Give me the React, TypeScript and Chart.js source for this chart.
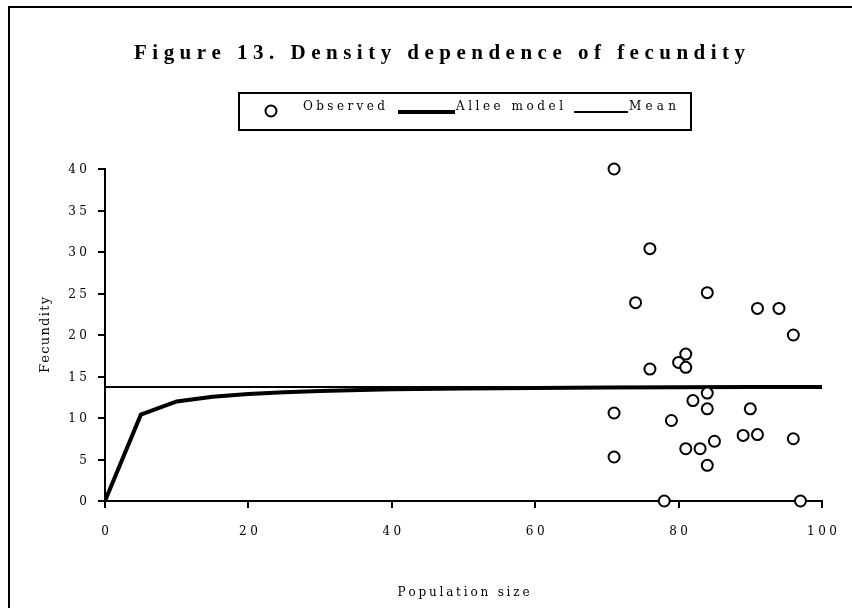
import React, { useEffect, useRef } from 'react';
import { Chart, registerables } from 'chart.js';

Chart.register(...registerables);

// ---- Data ----
const titleText = 'Figure 13. Density dependence of fecundity';
const xTitle = 'Population size';
const yTitle = 'Fecundity';
const legendLabels = ['Observed', 'Allee model', 'Mean'];

const xMin = 0;
const xMax = 100;
const xStep = 20;
const yMin = 0;
const yMax = 40;
const yStep = 5;

const observedX = [71, 76, 74, 84, 91, 94, 96, 81, 80, 81, 76, 84, 82, 84, 90, 71, 79, 89, 91, 96, 85, 81, 83, 71, 84, 78, 97];
const observedY = [40, 30.4, 23.9, 25.1, 23.2, 23.2, 20, 17.7, 16.7, 16.1, 15.9, 13.0, 12.1, 11.1, 11.1, 10.6, 9.7, 7.9, 8.0, 7.5, 7.2, 6.3, 6.3, 5.3, 4.3, 0, 0];

const alleeX = [0, 5, 10, 15, 20, 25, 30, 40, 50, 60, 70, 80, 90, 100];
const alleeY = [0, 10.4, 12.0, 12.55, 12.9, 13.1, 13.25, 13.45, 13.55, 13.62, 13.67, 13.7, 13.72, 13.74];

const meanValue = 13.75;
const meanX = [0, 100];

const FONT = '"DejaVu Serif", "Liberation Serif", serif';
const TITLE_FONT = '"Liberation Serif", "DejaVu Serif", serif';

function drawSpaced(ctx: CanvasRenderingContext2D, text: string, x: number, y: number, spacing: number, align: 'left' | 'center' | 'right') {
  const chars = Array.from(text);
  const widths = chars.map((c) => ctx.measureText(c).width);
  const total = widths.reduce((a, b) => a + b, 0) + spacing * (chars.length - 1);
  let cx = align === 'left' ? x : align === 'center' ? x - total / 2 : x - total;
  ctx.textAlign = 'left';
  chars.forEach((c, i) => {
    ctx.fillText(c, cx, y);
    cx += widths[i] + spacing;
  });
}

function drawFit(ctx: CanvasRenderingContext2D, text: string, x0: number, x1: number, y: number) {
  const chars = Array.from(text);
  const widths = chars.map((c) => ctx.measureText(c).width);
  const natural = widths.reduce((a, b) => a + b, 0);
  const spacing = chars.length > 1 ? (x1 - x0 - natural) / (chars.length - 1) : 0;
  drawSpaced(ctx, text, x0, y, spacing, 'left');
}

const decorPlugin = {
  id: 'decor',
  afterDraw(chart: any) {
    const ctx: CanvasRenderingContext2D = chart.ctx;
    const xs = chart.scales.x;
    const ys = chart.scales.y;
    const area = chart.chartArea;
    ctx.save();
    ctx.fillStyle = '#000';
    ctx.strokeStyle = '#000';

    // outer frame (left + top visible)
    ctx.fillRect(8, 6, 2, 610);
    ctx.fillRect(8, 6, 850, 2);

    // title
    ctx.font = `bold 21px ${TITLE_FONT}`;
    ctx.textBaseline = 'alphabetic';
    drawFit(ctx, titleText, 134, 745, 59);

    // legend box
    ctx.lineWidth = 2;
    ctx.strokeRect(239, 93, 452, 37);
    // observed marker
    ctx.beginPath();
    ctx.ellipse(271, 111, 5.5, 5.5, 0, 0, Math.PI * 2);
    ctx.fillStyle = '#fff';
    ctx.fill();
    ctx.lineWidth = 2;
    ctx.stroke();
    ctx.fillStyle = '#000';
    ctx.font = `12px ${FONT}`;
    drawFit(ctx, legendLabels[0], 303, 385, 110);
    // allee line sample
    ctx.lineWidth = 4;
    ctx.beginPath();
    ctx.moveTo(398, 112);
    ctx.lineTo(455, 112);
    ctx.stroke();
    drawFit(ctx, legendLabels[1], 456, 563, 110);
    // mean line sample
    ctx.lineWidth = 2;
    ctx.beginPath();
    ctx.moveTo(574, 112);
    ctx.lineTo(628, 112);
    ctx.stroke();
    drawFit(ctx, legendLabels[2], 629, 676, 110);

    // tick labels
    ctx.font = `12px ${FONT}`;
    xs.ticks.forEach((t: any) => {
      const px = xs.getPixelForValue(t.value);
      drawSpaced(ctx, String(t.value), px, 535, 3.5, 'center');
    });
    ys.ticks.forEach((t: any) => {
      const py = ys.getPixelForValue(t.value);
      drawSpaced(ctx, String(t.value), 87, py + 4, 3.5, 'right');
    });

    // axis titles
    ctx.font = `12px ${FONT}`;
    const cx = (area.left + area.right) / 2;
    const w = 132;
    drawFit(ctx, xTitle, cx - w / 2, cx + w / 2, 596);

    ctx.font = `13px ${FONT}`;
    const cy = (area.top + area.bottom) / 2;
    ctx.translate(49, cy);
    ctx.rotate(-Math.PI / 2);
    const h = 76;
    drawFit(ctx, yTitle, -h / 2, h / 2, 0);
    ctx.restore();
  },
};

export default function App() {
  const ref = useRef<HTMLCanvasElement | null>(null);

  useEffect(() => {
    const canvas = ref.current;
    if (!canvas) return;
    const chart = new Chart(canvas, {
      type: 'scatter',
      data: {
        datasets: [
          {
            type: 'scatter',
            label: legendLabels[0],
            data: observedX.map((x, i) => ({ x, y: observedY[i] })),
            pointStyle: 'circle',
            pointRadius: 5.5,
            pointBorderWidth: 2,
            pointBackgroundColor: '#fff',
            pointBorderColor: '#000',
            clip: false,
          } as any,
          {
            type: 'line',
            label: legendLabels[1],
            data: alleeX.map((x, i) => ({ x, y: alleeY[i] })),
            borderColor: '#000',
            borderWidth: 4,
            pointRadius: 0,
            tension: 0,
            fill: false,
          } as any,
          {
            type: 'line',
            label: legendLabels[2],
            data: meanX.map((x) => ({ x, y: meanValue })),
            borderColor: '#000',
            borderWidth: 2,
            pointRadius: 0,
            tension: 0,
            fill: false,
          } as any,
        ],
      },
      options: {
        animation: false,
        responsive: false,
        maintainAspectRatio: false,
        devicePixelRatio: 1,
        layout: { padding: { left: 10, top: 169, right: 30, bottom: 0 } },
        plugins: {
          legend: { display: false },
          title: { display: false },
          tooltip: { enabled: false },
        },
        scales: {
          x: {
            type: 'linear',
            min: xMin,
            max: xMax,
            ticks: { stepSize: xStep, display: false },
            grid: { drawOnChartArea: false, drawTicks: true, tickLength: 7, color: '#000', lineWidth: 2 },
            border: { display: true, color: '#000', width: 2 },
            afterFit: (s: any) => { s.height = 107; },
          } as any,
          y: {
            type: 'linear',
            min: yMin,
            max: yMax,
            ticks: { stepSize: yStep, display: false },
            grid: { drawOnChartArea: false, drawTicks: true, tickLength: 7, color: '#000', lineWidth: 2 },
            border: { display: true, color: '#000', width: 2 },
            afterFit: (s: any) => { s.width = 95; },
          } as any,
        },
      },
      plugins: [decorPlugin],
    });
    return () => chart.destroy();
  }, []);

  return (
    <div style={{ position: 'fixed', left: 0, top: 0, width: 852, height: 608, background: '#fff' }}>
      <canvas ref={ref} width={852} height={608} style={{ display: 'block', width: 852, height: 608 }} />
    </div>
  );
}
